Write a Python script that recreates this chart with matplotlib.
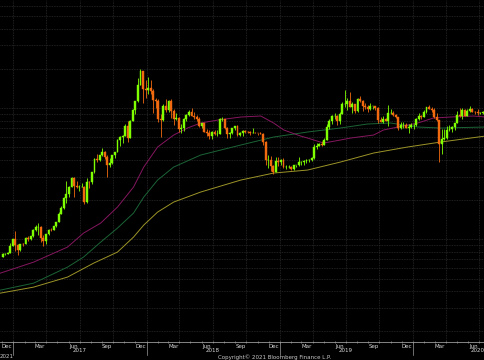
import matplotlib
matplotlib.use("Agg")
import matplotlib.pyplot as plt
import matplotlib.dates as mdates
import matplotlib.transforms as mtransforms
import numpy as np
import pandas as pd

# weekly candles, first week starts 2016-11-28
first_week = "2016-11-28"
first_open = 735

closes = [765, 775, 790, 893, 998,
          # 2017
          905, 820, 922, 920, 1025, 1000, 1050, 1170, 1230, 1240, 1020, 960, 1085, 1180, 1175, 1250,
          1350, 1560, 1720, 2050, 2200, 2510, 2950, 2540, 2500, 2510, 2510, 1930, 2750, 2730, 3230,
          4100, 4000, 4350, 4600, 4200, 3700, 3780, 4350, 4600, 5700, 6000, 6150, 7350, 5950, 8000,
          9700, 11300, 15000, 19300, 14000, 13800,
          # 2018
          14100, 13600, 11500, 11400, 8200, 8100, 10400, 9600, 11400, 9500, 8200, 8400, 6900, 7000,
          8300, 8900, 9400, 8700, 8550, 8200, 7350, 7700, 6600, 6400, 6150, 6600, 6300, 6350, 8200,
          8200, 7000, 6300, 6400, 7000, 7300, 6250, 6500, 6700, 6600, 6550, 6450, 6500, 6450, 6400,
          6350, 5550, 4000, 4000, 3600, 3250, 3950, 3850,
          # 2019
          4000, 3550, 3550, 3550, 3400, 3650, 3650, 3850, 3850, 3950, 4000, 4000, 4150, 5050, 5150,
          5300, 5250, 5750, 7200, 8000, 8700, 8700, 8000, 8950, 10800, 10800, 11400, 10200, 10700,
          9550, 11800, 11400, 10300, 10150, 9750, 10300, 10350, 10000, 8050, 7850, 8300, 8000, 9200,
          9200, 8800, 8500, 7000, 7400, 7400, 7100, 7200, 7400,
          # 2020
          7400, 8200, 8700, 8600, 9300, 10150, 9900, 9700, 8550, 8050, 5350, 5800, 5900, 6800, 6900,
          7150, 7700, 8900, 8750, 9700, 8700, 9450, 9750, 9400, 9300, 9100, 9100, 9250, 9200]

highs = [780, 778, 795, 932, 1000,
         1150, 920, 925, 930, 1030, 1065, 1060, 1200, 1280, 1330, 1255, 1070, 1100, 1200, 1215, 1260,
         1360, 1600, 1780, 2100, 2760, 2530, 2970, 2980, 2760, 2600, 2660, 2540, 2900, 2780, 3270,
         4120, 4480, 4400, 4980, 4700, 4350, 4120, 4400, 4650, 5850, 6150, 6200, 7600, 7900, 8100,
         9750, 11400, 17000, 19700, 19300, 16500,
         17200, 16300, 13900, 11900, 11700, 9000, 10800, 11700, 11600, 11700, 9900, 9100, 8500, 7500,
         8450, 8950, 9700, 9950, 9400, 8900, 8550, 7750, 7750, 6900, 6800, 6700, 6800, 6750, 8450,
         8500, 8250, 7150, 6600, 7100, 7350, 7400, 6600, 6800, 6800, 6700, 6700, 7000, 6550, 6500,
         6600, 6450, 5600, 4400, 4300, 3650, 4200, 4250,
         4100, 4150, 3700, 3650, 3600, 3700, 3700, 4200, 3950, 3980, 4050, 4100, 4200, 5300, 5450,
         5400, 5650, 5900, 7500, 8300, 8900, 9100, 8800, 9300, 11200, 13800, 12000, 13200, 11100,
         10750, 12000, 12300, 11500, 10950, 10600, 10900, 10450, 10400, 10100, 8500, 8750, 8400, 10500,
         9800, 9500, 9000, 8550, 7800, 7800, 7700, 7500, 7700,
         7600, 8400, 9200, 8900, 9600, 10200, 10500, 10200, 9950, 9200, 8150, 6900, 6950, 7250, 7450,
         7300, 7750, 9450, 10000, 9950, 9850, 9750, 10350, 9950, 9550, 9750, 9300, 9450, 9350]

lows = [725, 752, 770, 788, 890,
        810, 755, 815, 885, 915, 960, 990, 1040, 1150, 1080, 950, 890, 925, 1070, 1150, 1165,
        1240, 1345, 1550, 1710, 1900, 2100, 2480, 2100, 2450, 2330, 2480, 1840, 1900, 2470, 2650,
        3220, 3900, 3950, 4300, 4100, 2970, 3560, 3750, 4180, 4600, 5100, 5400, 6100, 5500, 5860,
        7950, 9000, 11100, 14900, 10900, 12000,
        12800, 12900, 9100, 10000, 7800, 6000, 8000, 9400, 9400, 8400, 7400, 8100, 6600, 6500,
        6620, 7900, 8750, 8650, 8200, 7900, 7200, 7050, 6550, 6150, 5800, 5800, 6250, 6080, 6300,
        7900, 6900, 5900, 5950, 6300, 6850, 6150, 6150, 6100, 6450, 6450, 6200, 6400, 6400, 6200,
        6300, 5250, 3700, 3500, 3300, 3150, 3250, 3600,
        3700, 3500, 3450, 3500, 3350, 3350, 3550, 3600, 3700, 3700, 3800, 3900, 3950, 4100, 4900,
        5100, 5150, 5200, 5700, 6900, 7500, 8300, 7450, 7500, 8950, 10200, 9700, 10100, 9100,
        9200, 9400, 11200, 9500, 9800, 9400, 9700, 9900, 9600, 7700, 7800, 7750, 7900, 7300,
        8950, 8700, 8400, 6800, 6900, 7100, 7050, 6450, 7100,
        6900, 7300, 8100, 8250, 8550, 9150, 9750, 9300, 8450, 8000, 3850, 4450, 5700, 5850, 6700,
        6550, 6800, 7650, 8600, 8200, 8650, 8650, 9350, 9250, 9050, 8850, 8950, 9050, 9100]

# moving averages
ma50_dates = ["2016-11-26", "2017-02-25", "2017-05-29", "2017-07-12", "2017-08-28", "2017-10-13",
              "2017-11-26", "2017-12-24", "2018-01-31", "2018-03-16", "2018-04-23", "2018-05-29",
              "2018-07-15", "2018-09-16", "2018-11-10", "2018-12-15", "2019-01-12", "2019-02-27",
              "2019-03-18", "2019-05-01", "2019-06-16", "2019-07-14", "2019-09-15", "2019-10-12",
              "2019-12-17", "2020-01-14", "2020-02-26", "2020-04-13", "2020-06-15", "2020-07-18"]
ma50 = [550, 667, 869, 1111, 1325, 1755, 2494, 3545, 5039, 6220, 7036, 7684, 8096, 8537, 8688,
        7684, 6795, 6113, 5902, 5404, 5698, 5902, 6220, 6795, 7418, 7684, 8389, 8537, 8688, 8537]

ma100_dates = ["2016-11-26", "2017-02-25", "2017-05-29", "2017-07-12", "2017-08-28", "2017-10-13",
               "2017-11-26", "2017-12-24", "2018-01-31", "2018-03-16", "2018-05-29", "2018-09-16",
               "2018-12-15", "2019-03-18", "2019-06-16", "2019-08-29", "2019-10-31", "2020-01-14",
               "2020-03-17", "2020-07-18"]
ma100 = [408, 461, 611, 729, 949, 1213, 1579, 2092, 2821, 3545, 4377, 5220, 6006, 6560, 7036,
         7550, 7684, 7161, 7036, 7161]

ma200_dates = ["2016-11-26", "2017-02-25", "2017-05-29", "2017-08-09", "2017-10-13", "2017-11-26",
               "2017-12-24", "2018-01-31", "2018-03-16", "2018-05-29", "2018-09-16", "2018-12-15",
               "2019-03-18", "2019-06-16", "2019-09-15", "2019-12-17", "2020-03-17", "2020-07-18"]
ma200 = [387, 430, 513, 656, 796, 1036, 1279, 1607, 1916, 2285, 2821, 3190, 3363, 3870, 4535,
         5039, 5501, 6113]

grid_levels = [200, 300, 400, 500, 600, 700, 800, 900,
               1000, 2000, 3000, 4000, 5000, 6000, 7000, 8000, 9000,
               10000, 20000, 30000, 40000, 50000, 60000]
years = [2017, 2018, 2019, 2020]
month_labels = ["Dec", "Mar", "Jun", "Sep"]

fig = plt.figure(figsize=(4.85, 3.6), dpi=100, facecolor="black")
ax = fig.add_axes([0, 18 / 360, 1, 342 / 360])
ax.set_facecolor("black")

o = np.array([first_open] + closes[:-1], dtype=float)
c = np.array(closes, dtype=float)
h = np.array(highs, dtype=float)
l = np.array(lows, dtype=float)
weeks = pd.date_range(first_week, periods=len(closes), freq="7D")
x = mdates.date2num(weeks) + 4

up_col = "#7fff00"
dn_col = "#f26a0f"
cols = [up_col if cc >= oo else dn_col for oo, cc in zip(o, c)]

# grid
grid_col = "#2a2a2a"
for v in grid_levels:
    ax.axhline(v, color=grid_col, lw=0.6, ls=(0, (1, 1)), zorder=0)
for d in pd.date_range("2017-01-01", "2020-07-01", freq="QS"):
    ax.axvline(mdates.date2num(d), color=grid_col, lw=0.6, ls=(0, (1, 1)), zorder=0)

# moving averages
ax.plot(mdates.date2num(pd.to_datetime(ma200_dates)), ma200, color="#9c9428", lw=0.7, zorder=1)
ax.plot(mdates.date2num(pd.to_datetime(ma100_dates)), ma100, color="#1b6436", lw=0.7, zorder=1)
ax.plot(mdates.date2num(pd.to_datetime(ma50_dates)), ma50, color="#85175f", lw=0.7, zorder=1)

# candles
ax.vlines(x, l, h, colors=cols, lw=0.6, zorder=2)
ax.bar(x, np.abs(c - o), bottom=np.minimum(o, c), width=5.2, color=cols,
       edgecolor=cols, linewidth=0.3, zorder=3)

ax.set_yscale("log")
ax.set_ylim(164, 66700)
ax.set_xlim(mdates.date2num(pd.Timestamp("2016-11-25")), mdates.date2num(pd.Timestamp("2020-07-16 10:00")))
ax.set_yticks([])
ax.minorticks_off()
ax.yaxis.set_visible(False)

for s in ["top", "left", "right"]:
    ax.spines[s].set_visible(False)
ax.spines["bottom"].set_color("#9a9a9a")
ax.spines["bottom"].set_linewidth(0.6)

# month labels at mid month
lab_dates = [d + pd.Timedelta(days=14) for d in pd.date_range("2016-12-01", "2020-07-01", freq="MS")
             if d.strftime("%b") in month_labels]
ax.set_xticks(mdates.date2num(lab_dates))
ax.set_xticklabels([d.strftime("%b") for d in lab_dates], fontsize=4, color="#d8d8d8")
ax.tick_params(axis="x", length=0, pad=1.2)
ax.set_xticks(mdates.date2num(pd.date_range("2016-12-01", "2020-07-01", freq="MS")), minor=True)
ax.tick_params(axis="x", which="minor", length=1.5, color="#9a9a9a", width=0.5, direction="inout")

trans = mtransforms.blended_transform_factory(ax.transData, ax.transAxes)
for yr in years:
    mid = mdates.date2num(pd.Timestamp(f"{yr}-07-01")) - (4 if yr == 2020 else 0)
    ax.text(mid, -0.026, str(yr), transform=trans, ha="center", va="center",
            fontsize=4, color="#d8d8d8", clip_on=False)
    jan = mdates.date2num(pd.Timestamp(f"{yr}-01-01"))
    ax.plot([jan, jan], [0, -0.038], transform=trans, color="#9a9a9a", lw=0.5, clip_on=False)

fig.text(0.0, 3 / 360, "2021", fontsize=4, color="#c8c8c8", ha="left", va="center")
fig.text(275 / 485, 3 / 360, "Copyright\u00a9 2021 Bloomberg Finance L.P.", fontsize=4,
         color="#c8c8c8", ha="center", va="center")

fig.savefig("out.png", dpi=100, facecolor="black")
